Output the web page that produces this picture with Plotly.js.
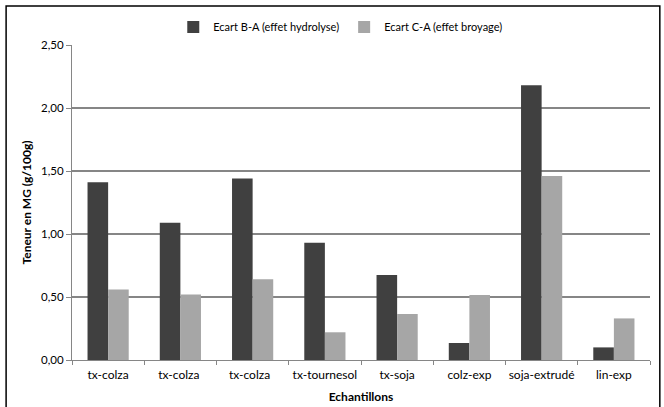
<!DOCTYPE html>
<html>
<head>
<meta charset="utf-8">
<script src="https://cdn.plot.ly/plotly-3.0.1.min.js"></script>
<style>html,body{margin:0;padding:0;background:#fff;}#chart{width:664px;height:407px;}</style>
</head>
<body>
<div id="chart"></div>
<script>
const categories = ["tx-colza", "tx-colza ", "tx-colza  ", "tx-tournesol", "tx-soja", "colz-exp", "soja-extrudé", "lin-exp"];
const seriesNames = ["Ecart B-A (effet hydrolyse)", "Ecart C-A (effet broyage)"];
const ecartBA = [1.41, 1.09, 1.44, 0.93, 0.675, 0.135, 2.18, 0.10];
const ecartCA = [0.56, 0.52, 0.64, 0.22, 0.365, 0.515, 1.46, 0.33];
const yTicks = [0, 0.5, 1, 1.5, 2, 2.5];

const font = "Lato, 'Open Sans', sans-serif";
const traces = [
  {type: "bar", name: seriesNames[0], x: categories, y: ecartBA, marker: {color: "#404040"}},
  {type: "bar", name: seriesNames[1], x: categories, y: ecartCA, marker: {color: "#a6a6a6"}}
];
const layout = {
  width: 664, height: 407,
  margin: {l: 72, r: 14, t: 45, b: 47},
  paper_bgcolor: "#fff", plot_bgcolor: "#fff",
  separators: ", ",
  font: {family: font, size: 11, color: "#000"},
  barmode: "group", bargap: 0.43, bargroupgap: 0,
  showlegend: true,
  legend: {orientation: "h", x: 0.465, xanchor: "center", y: 1.057, yanchor: "middle",
           font: {family: font, size: 11}, itemwidth: 30, traceorder: "normal"},
  xaxis: {
    type: "category", tickson: "boundaries", ticks: "outside", ticklen: 4, tickcolor: "#868686",
    ticklabelstandoff: 4, tickangle: 0,
    showline: true, linecolor: "#868686", linewidth: 1, showgrid: false,
    tickfont: {family: font, size: 12},
    title: {text: "<b>Echantillons</b>", font: {family: font, size: 12}, standoff: 11}
  },
  yaxis: {
    range: [0, 2.5], tickvals: yTicks, tickformat: ".2f",
    ticks: "outside", ticklen: 5, tickcolor: "#868686",
    showline: true, linecolor: "#868686", linewidth: 1,
    showgrid: true, gridcolor: "#868686", gridwidth: 1.3, zeroline: false,
    tickfont: {family: font, size: 11.5},
    title: {text: "<b>Teneur en MG (g/100g)</b>", font: {family: font, size: 12}, standoff: 6}
  },
  shapes: [{type: "rect", xref: "paper", yref: "paper", x0: -0.114, x1: 1.017, y0: -0.17, y1: 1.1238,
            line: {color: "#000", width: 1.5}, fillcolor: "rgba(0,0,0,0)", layer: "above"}]
};
Plotly.newPlot("chart", traces, layout, {displayModeBar: false, staticPlot: true});
</script>
</body>
</html>
